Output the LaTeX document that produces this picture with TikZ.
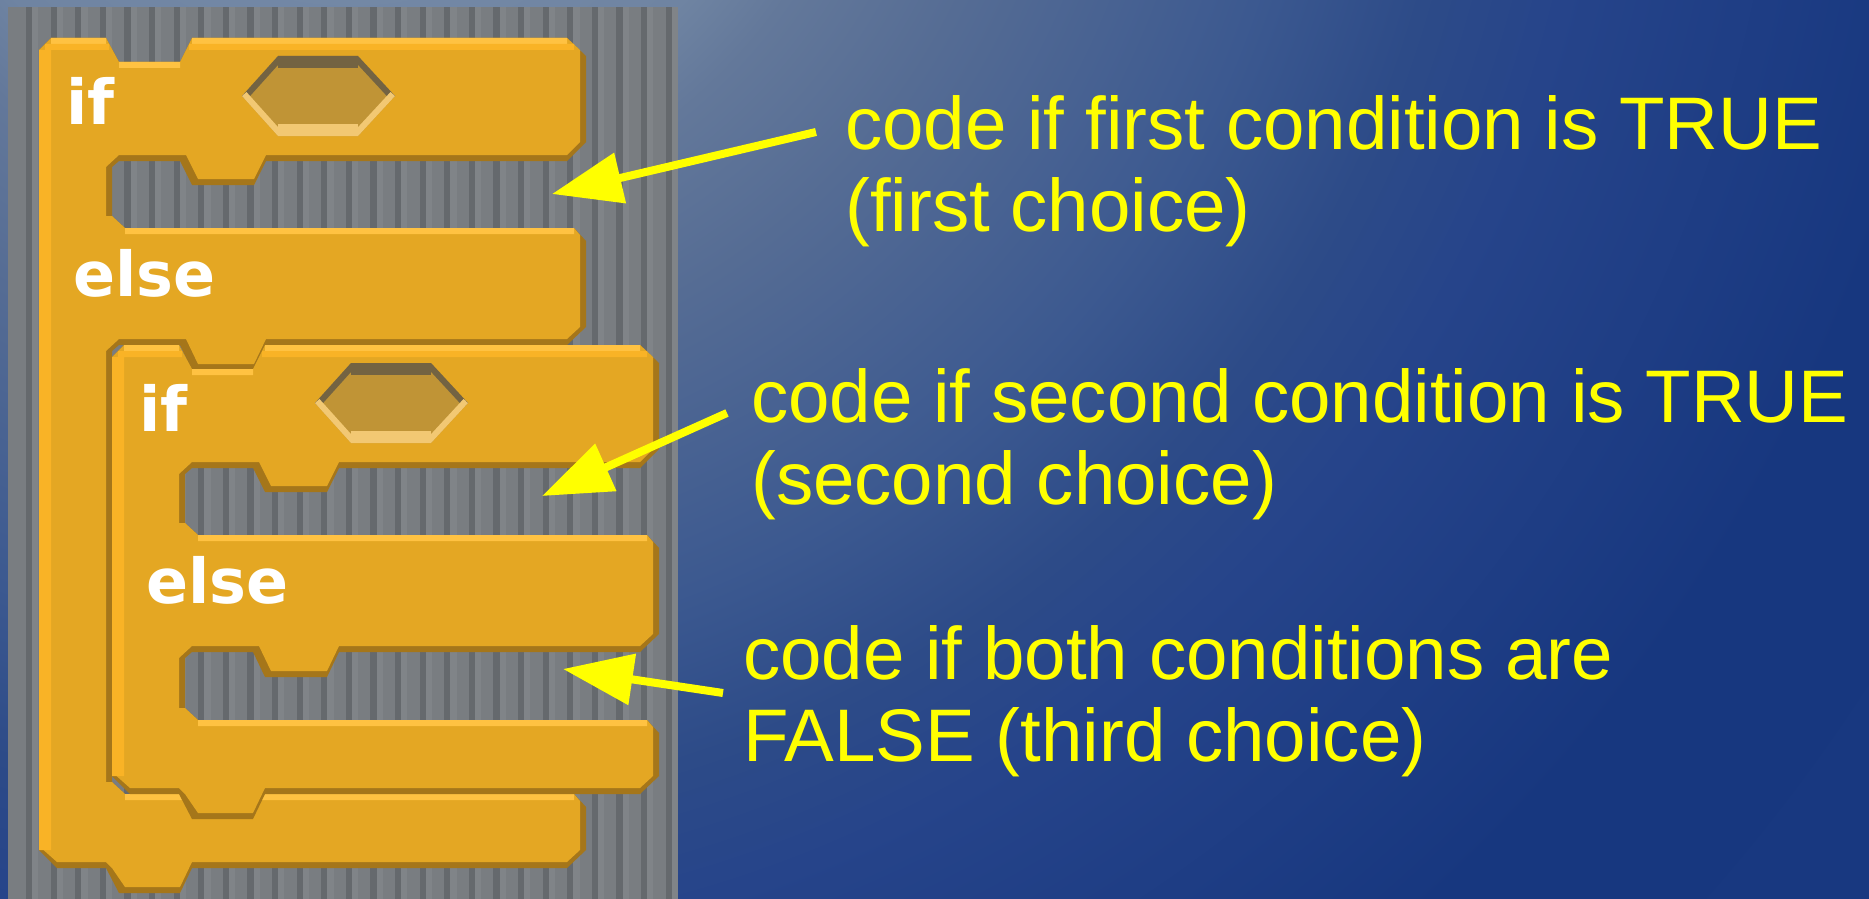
\documentclass[tikz,border=0pt]{standalone}
\usepackage{fontspec}
\setmainfont{Liberation Sans}
\newfontfamily\blockfont{DejaVu Sans}
\usepackage{tikz}
\usepackage{xcolor}
\usetikzlibrary{arrows.meta}

\definecolor{blockmain}{HTML}{E4A723}
\definecolor{blockdark}{HTML}{A5761A}
\definecolor{blocklight}{HTML}{FFC242}
\definecolor{blockbright}{HTML}{F9B326}
\definecolor{slotfill}{HTML}{C09436}
\definecolor{slotdark}{HTML}{736342}
\definecolor{slotlight}{HTML}{F2C873}
\definecolor{panelgray}{HTML}{797D81}
\definecolor{paneldark}{HTML}{65696D}
\definecolor{panellight}{HTML}{808488}
\definecolor{noteyellow}{HTML}{FFFF00}
\definecolor{glowa}{HTML}{7A8FAC}
\definecolor{glowb}{HTML}{6F84A2}
\definecolor{glowc}{HTML}{63789A}
\definecolor{glowd}{HTML}{556C94}
\definecolor{glowe}{HTML}{3C5990}
\definecolor{glowf}{HTML}{2D4B88}
\definecolor{glowg}{HTML}{26448A}
\definecolor{glowh}{HTML}{17377F}
\definecolor{glowi}{HTML}{183880}

% radius 25bp is the rim of the shaded circle
\pgfdeclareradialshading{slideglow}{\pgfpoint{0bp}{0bp}}{%
color(0bp)=(glowa); color(5.6bp)=(glowb); color(6.6bp)=(glowc);
color(8.5bp)=(glowd); color(11.9bp)=(glowe); color(13.9bp)=(glowf);
color(15.6bp)=(glowg); color(20.25bp)=(glowh); color(25bp)=(glowi); color(50bp)=(glowi)}

\begin{document}
\begin{tikzpicture}[x=1pt,y=-1pt,
keyword/.style={text=white,inner sep=0pt,anchor=base west,font=\blockfont\fontsize{62pt}{62pt}\selectfont\bfseries},
note/.style={text=noteyellow,inner sep=0pt,anchor=north west,align=left,font=\fontsize{74.5pt}{82pt}\selectfont},
pointer/.style={draw=noteyellow,line width=8pt,-{Triangle[length=70pt,width=50pt]}}]
\useasboundingbox (0,0) rectangle (1869,899);
% slide background
\begin{scope}
\clip (0,0) rectangle (1869,899);
\fill[glowi] (0,0) rectangle (1869,899);
\shade[shading=slideglow] (350,-300) circle[radius=2000pt];
\end{scope}
% striped scripting area
\fill[panelgray] (8,7) rectangle (678,899);
\foreach \k in {0,...,26}{
\fill[paneldark] ({26+24.6*\k},7) rectangle ++(6.2,892);
\fill[panellight] ({32.2+24.6*\k},7) rectangle ++(6.2,892);
}
% the two if/else blocks, outer one first
\foreach \ox/\oy/\army/\blk in {0/0/794/outer,73/307/413/inner}{
\begin{scope}[shift={(\ox,\oy)}]
\fill[blockdark] (39,50)--(51,38)--(106,38)--(119,62)--(180,62)--(192,38)--(567,38)--(586,56)--(586,142)--(567,161)
--(266,161)--(254,185)--(192,185)--(180,161)--(119,161)--(112,167)--(112,216)--(125,228)--(574,228)--(586,241)
--(586,327)--(567,345)--(266,345)--(254,370)--(192,370)--(180,345)--(119,345)--(112,351)--(112,\army-12)
--(125,\army)--(574,\army)--(586,\army+13)--(586,\army+56)--(567,\army+74)--(192,\army+74)--(180,\army+99)
--(119,\army+99)--(106,\army+74)--(57,\army+74)--(39,\army+56)--cycle;
\fill[blockmain] (39,50)--(51,38)--(106,38)--(119,62)--(180,62)--(192,38)--(567,38)--(580,50)--(580,142)--(567,155)
--(266,155)--(254,179)--(198,179)--(186,155)--(119,155)--(106,167)--(106,216)--(112,216)--(125,228)--(574,228)
--(580,235)--(580,327)--(567,339)--(266,339)--(254,364)--(198,364)--(186,339)--(119,339)--(106,351)
--(106,\army-12)--(112,\army-12)--(125,\army)--(574,\army)--(580,\army+7)--(580,\army+56)--(567,\army+68)
--(192,\army+68)--(180,\army+93)--(125,\army+93)--(112,\army+74)--(106,\army+68)--(57,\army+68)--(39,\army+52)--cycle;
\fill[blocklight] (51,38) rectangle (106,44) (192,38) rectangle (567,44) (119,62) rectangle (180,68)
(125,228) rectangle (574,234) (125,\army) rectangle (574,\army+6);
\fill[blockbright] (45,44) rectangle (109,50) (189,44) rectangle (574,50) (39,50) rectangle (51,\army+56);
% empty condition slot
\begin{scope}
\clip (242,96)--(278,56)--(358,56)--(395,96)--(358,136)--(278,136)--cycle;
\fill[slotfill] (232,40) rectangle (405,150);
\draw[slotdark,line width=24pt] (278,56)--(358,56);
\draw[slotdark,line width=12pt] (242,96)--(278,56) (358,56)--(395,96);
\draw[slotlight,line width=24pt] (278,136)--(358,136);
\draw[slotlight,line width=12pt] (242,96)--(278,136) (358,136)--(395,96);
\end{scope}
\node[keyword] (if-\blk) at (66,124) {if};
\node[keyword] (else-\blk) at (73,296) {else};
\end{scope}
}
% notes and pointers
\node[note] (firstnote) at (845,95) {code if first condition is TRUE\\(first choice)};
\node[note] (secondnote) at (751,368) {code if second condition is TRUE\\(second choice)};
\node[note] (thirdnote) at (743,625) {code if both conditions are\\FALSE (third choice)};
\coordinate (firsttail) at (816,132);
\coordinate (firstgap) at (552,194);
\coordinate (secondtail) at (727,413);
\coordinate (secondgap) at (542,496);
\coordinate (thirdtail) at (723,693);
\coordinate (thirdgap) at (563,669);
\draw[pointer] (firsttail)--(firstgap);
\draw[pointer] (secondtail)--(secondgap);
\draw[pointer] (thirdtail)--(thirdgap);
\end{tikzpicture}
\end{document}
